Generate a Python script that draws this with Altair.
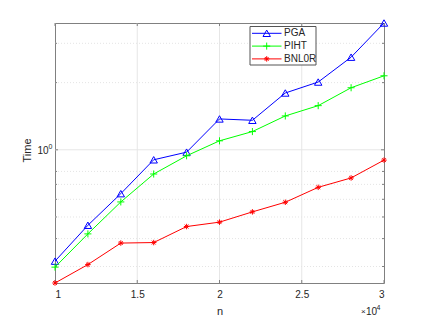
import altair as alt
import pandas as pd

n = [10000, 12000, 14000, 16000, 18000, 20000, 22000, 24000, 26000, 28000, 30000]
pga = [0.317, 0.459, 0.636, 0.902, 0.976, 1.375, 1.356, 1.797, 2.012, 2.60, 3.70]
piht = [0.298, 0.420, 0.584, 0.779, 0.940, 1.097, 1.207, 1.418, 1.577, 1.897, 2.146]
bnl0r = [0.253, 0.306, 0.382, 0.384, 0.453, 0.474, 0.527, 0.582, 0.679, 0.748, 0.899]

series = ["PGA", "PIHT", "BNL0R"]
values = [pga, piht, bnl0r]
colors = ["#0000ff", "#00ff00", "#ff0000"]
shapes = [
    "triangle-up",
    "M-1,0L1,0M0,-1L0,1",
    "M-1,0L1,0M0,-1L0,1M-0.7,-0.7L0.7,0.7M-0.7,0.7L0.7,-0.7",
]
sizes = [55, 50, 30]

x_ticks = [10000, 15000, 20000, 25000, 30000]
y_major = [1]
y_minor = [0.3, 0.4, 0.5, 0.6, 0.7, 0.8, 2, 3]

W, H = 329, 260
FONT = "Liberation Sans"
AX = "#808080"
TXT = "#262626"

xscale = alt.Scale(domain=[10000, 30000], nice=False, zero=False)
yscale = alt.Scale(type="log", domain=[min(bnl0r), max(pga)], nice=False, zero=False)

xaxis = alt.Axis(
    values=x_ticks,
    labelExpr="datum.value / 10000",
    title="n",
    grid=False,
    ticks=False,
    domain=False,
    labelPadding=6,
    labelFont=FONT,
    labelFontSize=10,
    labelColor=TXT,
    titleFont=FONT,
    titleFontSize=11,
    titleFontWeight="normal",
    titleColor=TXT,
    titleY=28,
    titleBaseline="middle",
)
yaxis = alt.Axis(
    values=[1],
    labelExpr="'10'",
    title="Time",
    grid=False,
    ticks=False,
    domain=False,
    labelPadding=7,
    labelOffset=1,
    labelFont=FONT,
    labelFontSize=10,
    labelColor=TXT,
    titleFont=FONT,
    titleFontSize=11,
    titleFontWeight="normal",
    titleColor=TXT,
    titleX=-28,
    titleY=127,
    titleBaseline="middle",
)


def X(f):
    return alt.X(f, scale=xscale, axis=xaxis)


def Y(f):
    return alt.Y(f, scale=yscale, axis=yaxis)


layers = []

# grid lines
layers.append(
    alt.Chart(pd.DataFrame({"n": x_ticks[1:-1]})).mark_rule(color="#e6e6e6", strokeWidth=1).encode(
        x=X("n:Q"), y=alt.value(0), y2=alt.value(H)
    )
)
layers.append(
    alt.Chart(pd.DataFrame({"time": y_major})).mark_rule(color="#e6e6e6", strokeWidth=1).encode(
        y=Y("time:Q"), x=alt.value(0), x2=alt.value(W)
    )
)
layers.append(
    alt.Chart(pd.DataFrame({"time": y_minor})).mark_rule(
        color="#e4e4e4", strokeWidth=1, strokeDash=[1, 2]
    ).encode(y=Y("time:Q"), x=alt.value(0), x2=alt.value(W))
)

# tick marks (inward, all four sides)
for x0, x1 in [(0, 3), (W, W - 3)]:
    layers.append(
        alt.Chart(pd.DataFrame({"time": y_major})).mark_rule(color=AX, strokeWidth=1).encode(
            y=Y("time:Q"), x=alt.value(x0), x2=alt.value(x1)
        )
    )
for x0, x1 in [(0, 2), (W, W - 2)]:
    layers.append(
        alt.Chart(pd.DataFrame({"time": y_minor})).mark_rule(color=AX, strokeWidth=1).encode(
            y=Y("time:Q"), x=alt.value(x0), x2=alt.value(x1)
        )
    )
for y0, y1 in [(H, H - 3), (0, 3)]:
    layers.append(
        alt.Chart(pd.DataFrame({"n": x_ticks})).mark_rule(color=AX, strokeWidth=1).encode(
            x=X("n:Q"), y=alt.value(y0), y2=alt.value(y1)
        )
    )

# superscript exponent of the y tick label 10^0
layers.append(
    alt.Chart(pd.DataFrame({"time": y_major, "t": ["0"]})).mark_text(
        font=FONT, fontSize=7, color=TXT, align="left", baseline="middle", dy=-3
    ).encode(text="t:N", y=Y("time:Q"), x=alt.value(-6.5))
)

# data series
for name, vals, col, shp, sz in zip(series, values, colors, shapes, sizes):
    df = pd.DataFrame({"n": n, "time": vals})
    base = alt.Chart(df).encode(x=X("n:Q"), y=Y("time:Q"))
    layers.append(base.mark_line(color=col, strokeWidth=1, clip=False))
    layers.append(
        base.mark_point(shape=shp, size=sz, filled=False, color=col, strokeWidth=1, opacity=1, clip=False)
    )

# x10^4 multiplier
mult = [("×", 8, 306, 289, "left"), ("10", 10, 311, 289, "left"), ("4", 7, 321.5, 285, "left")]
for t, fs, tx, ty, al in mult:
    layers.append(
        alt.Chart(pd.DataFrame({"t": [t]})).mark_text(
            font=FONT, fontSize=fs, color=TXT, align=al, baseline="middle"
        ).encode(text="t:N", x=alt.value(tx), y=alt.value(ty))
    )

# legend
LX0, LX1, LY0, LY1 = 195, 261, 3.5, 42
layers.append(
    alt.Chart(pd.DataFrame({"a": [0]})).mark_rect(fill="white", stroke="#555555", strokeWidth=1).encode(
        x=alt.value(LX0), x2=alt.value(LX1), y=alt.value(LY0), y2=alt.value(LY1)
    )
)
for i, (name, col, shp, sz) in enumerate(zip(series, colors, shapes, sizes)):
    ly = 10.3 + 12.8 * i
    d = pd.DataFrame({"name": [name]})
    layers.append(
        alt.Chart(d).mark_rule(color=col, strokeWidth=1).encode(
            x=alt.value(197), x2=alt.value(226.5), y=alt.value(ly)
        )
    )
    layers.append(
        alt.Chart(d).mark_point(shape=shp, size=sz, filled=False, color=col, strokeWidth=1, opacity=1).encode(
            x=alt.value(211.7), y=alt.value(ly)
        )
    )
    layers.append(
        alt.Chart(d).mark_text(font=FONT, fontSize=10, color=TXT, align="left", baseline="middle").encode(
            text="name:N", x=alt.value(229), y=alt.value(ly)
        )
    )

chart = (
    alt.layer(*layers)
    .properties(
        width=W,
        height=H,
        autosize=alt.AutoSizeParams(type="none"),
        padding={"left": 47, "top": 15, "right": 30, "bottom": 40},
        background="white",
    )
    .configure_view(stroke=AX, strokeWidth=1)
)

chart.save("out.html", embed_options={"renderer": "svg", "actions": False})
